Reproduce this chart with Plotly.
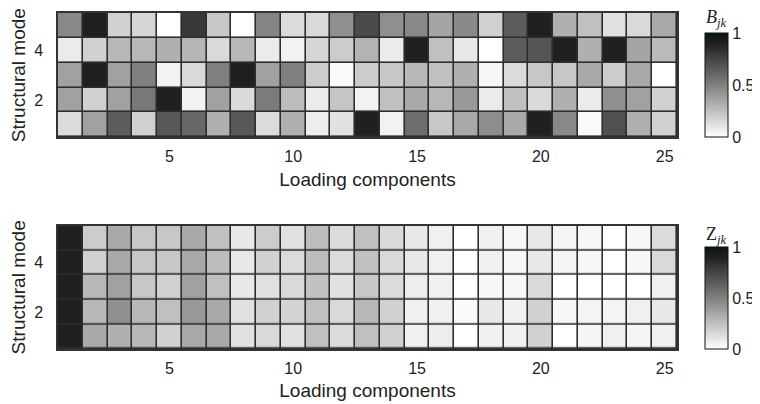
import plotly.graph_objects as go

components = list(range(1, 26))
modes = [1, 2, 3, 4, 5]
x_ticks = [5, 10, 15, 20, 25]
y_ticks = [2, 4]
cbar_ticks = [0, 0.5, 1]
cbar_labels = ["0", "0.5", "1"]

# B_jk values, one list per structural mode (components 1..25)
B_mode1 = [0.14, 0.37, 0.65, 0.18, 0.67, 0.60, 0.31, 0.67, 0.14, 0.31, 0.07, 0.12, 0.90,
           0.05, 0.58, 0.22, 0.34, 0.45, 0.34, 0.90, 0.47, 0.02, 0.70, 0.31, 0.18]
B_mode2 = [0.37, 0.18, 0.37, 0.53, 0.90, 0.05, 0.37, 0.15, 0.52, 0.26, 0.08, 0.23, 0.05,
           0.25, 0.34, 0.28, 0.40, 0.08, 0.25, 0.15, 0.31, 0.08, 0.44, 0.37, 0.18]
B_mode3 = [0.37, 0.90, 0.37, 0.50, 0.05, 0.15, 0.50, 0.90, 0.37, 0.50, 0.20, 0.02, 0.20,
           0.22, 0.28, 0.25, 0.31, 0.03, 0.14, 0.22, 0.22, 0.34, 0.20, 0.34, 0.00]
B_mode4 = [0.08, 0.18, 0.28, 0.28, 0.31, 0.29, 0.15, 0.28, 0.08, 0.05, 0.16, 0.20, 0.30,
           0.08, 0.90, 0.25, 0.09, 0.00, 0.65, 0.68, 0.90, 0.31, 0.90, 0.36, 0.27]
B_mode5 = [0.47, 0.90, 0.18, 0.16, 0.00, 0.80, 0.22, 0.00, 0.48, 0.14, 0.15, 0.44, 0.72,
           0.44, 0.47, 0.36, 0.46, 0.18, 0.65, 0.90, 0.31, 0.25, 0.12, 0.15, 0.34]

# Z_jk values, one list per structural mode (components 1..25)
Z_mode1 = [0.90, 0.34, 0.31, 0.28, 0.18, 0.34, 0.34, 0.12, 0.15, 0.12, 0.25, 0.14, 0.25,
           0.18, 0.06, 0.07, 0.00, 0.06, 0.06, 0.18, 0.00, 0.04, 0.06, 0.04, 0.06]
Z_mode2 = [0.90, 0.28, 0.44, 0.28, 0.25, 0.40, 0.34, 0.12, 0.18, 0.17, 0.25, 0.15, 0.28,
           0.18, 0.06, 0.06, 0.02, 0.09, 0.06, 0.18, 0.03, 0.04, 0.04, 0.06, 0.09]
Z_mode3 = [0.90, 0.28, 0.37, 0.22, 0.18, 0.37, 0.25, 0.09, 0.12, 0.15, 0.24, 0.12, 0.22,
           0.14, 0.07, 0.06, 0.00, 0.03, 0.03, 0.15, 0.00, 0.00, 0.00, 0.00, 0.06]
Z_mode4 = [0.90, 0.18, 0.34, 0.22, 0.22, 0.34, 0.26, 0.09, 0.18, 0.14, 0.26, 0.14, 0.25,
           0.15, 0.09, 0.06, 0.00, 0.06, 0.03, 0.09, 0.04, 0.03, 0.00, 0.03, 0.15]
Z_mode5 = [0.90, 0.20, 0.34, 0.22, 0.22, 0.34, 0.25, 0.09, 0.20, 0.12, 0.26, 0.14, 0.25,
           0.15, 0.09, 0.06, 0.00, 0.06, 0.03, 0.09, 0.04, 0.03, 0.00, 0.03, 0.14]

B_values = [B_mode1, B_mode2, B_mode3, B_mode4, B_mode5]
Z_values = [Z_mode1, Z_mode2, Z_mode3, Z_mode4, Z_mode5]

FONT = "Liberation Sans, Arial, sans-serif"
SERIF = "Liberation Serif, Times New Roman, serif"
scale = [[0, "#ffffff"], [0.5, "#808080"], [0.9, "#221f20"], [1.0, "#061616"]]

def cbar(y0, length):
    return dict(
        x=1.045, xanchor="left", y=y0, yanchor="bottom", len=length, lenmode="fraction",
        thickness=23, thicknessmode="pixels", outlinecolor="#111111", outlinewidth=1,
        tickvals=cbar_ticks, ticktext=cbar_labels, ticks="", xpad=0, ypad=0,
        tickfont=dict(family=FONT, size=16, color="#222222"),
    )

fig = go.Figure()
fig.add_trace(go.Heatmap(
    x=components, y=modes, z=B_values, zmin=0, zmax=1, colorscale=scale,
    xgap=1.6, ygap=1.6, xaxis="x", yaxis="y", colorbar=cbar(0.63, 0.311),
    hoverinfo="skip",
))
fig.add_trace(go.Heatmap(
    x=components, y=modes, z=Z_values, zmin=0, zmax=1, colorscale=scale,
    xgap=1.6, ygap=1.6, xaxis="x2", yaxis="y2", colorbar=cbar(0.0, 0.305),
    hoverinfo="skip",
))

axis_common = dict(showgrid=False, zeroline=False, ticks="", showline=True, mirror=True,
                   linecolor="#333333", linewidth=1.5, automargin=False,
                   tickfont=dict(family=FONT, size=16, color="#222222"))
xaxis_extra = dict(ticklabelstandoff=4)
yaxis_extra = dict(ticklabelstandoff=10)

fig.update_layout(
    width=760, height=404,
    margin=dict(l=50, r=91, t=5, b=63, autoexpand=False),
    paper_bgcolor="white", plot_bgcolor="#2e2e2e",
    font=dict(family=FONT, size=16, color="#222222"),
    xaxis=dict(domain=[0, 1], anchor="y", range=[0.5, 25.5], tickvals=x_ticks,
               title=dict(text="Loading components", standoff=8), **axis_common, **xaxis_extra),
    yaxis=dict(domain=[0.63, 1.0], anchor="x", range=[0.5, 5.5], tickvals=y_ticks,
               title=dict(text="Structural mode", standoff=6), **axis_common, **yaxis_extra),
    xaxis2=dict(domain=[0, 1], anchor="y2", range=[0.5, 25.5], tickvals=x_ticks,
                title=dict(text="Loading components", standoff=8), **axis_common, **xaxis_extra),
    yaxis2=dict(domain=[0.0, 0.367], anchor="x2", range=[0.5, 5.5], tickvals=y_ticks,
                title=dict(text="Structural mode", standoff=6), **axis_common, **yaxis_extra),
    annotations=[
        dict(text="<i>B</i><sub><i>jk</i></sub>", xref="paper", yref="paper",
             x=1.0625, y=0.944, xanchor="center", yanchor="bottom", showarrow=False,
             font=dict(family=SERIF, size=18, color="#222222")),
        dict(text="Z<sub><i>jk</i></sub>", xref="paper", yref="paper",
             x=1.0625, y=0.298, xanchor="center", yanchor="bottom", showarrow=False,
             font=dict(family=SERIF, size=18, color="#222222")),
    ],
)

fig.write_html("out.html")
